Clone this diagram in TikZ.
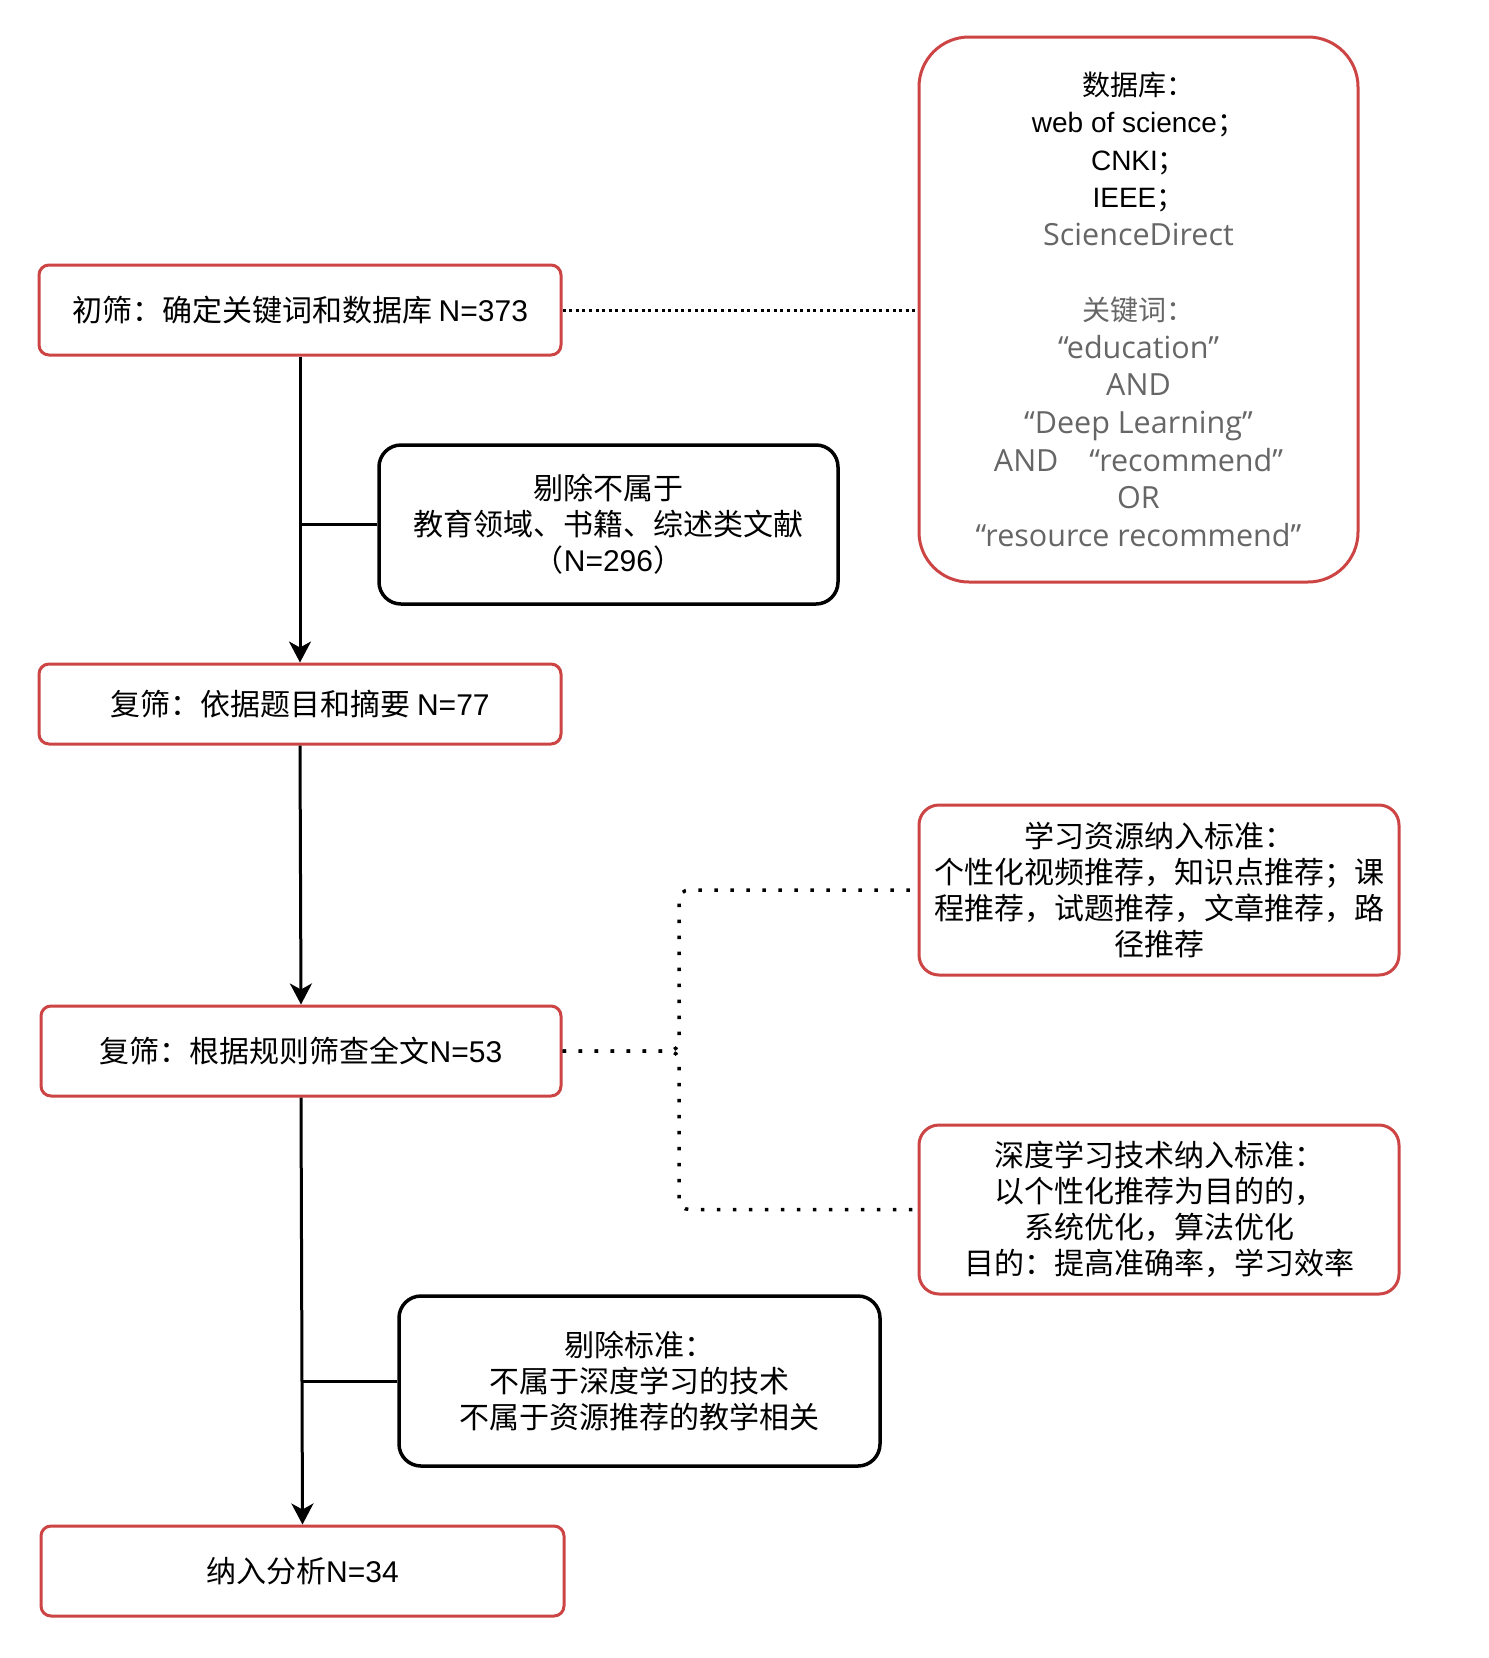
\documentclass[tikz,border=0pt]{standalone}
\usepackage{fontspec}
\setmainfont{Noto Sans CJK SC}
\newfontfamily\lat{Liberation Sans}
\newfontfamily\seg{Open Sans}
\usetikzlibrary{arrows.meta,calc}
\definecolor{boxred}{RGB}{204,68,68}
\definecolor{txtgray}{HTML}{666666}
\newcommand\grl[1]{{\color{txtgray}\seg\fontsize{30.5}{37.6}\selectfont #1}}
\begin{document}
\begin{tikzpicture}[x=1pt,y=-1pt,
 redbox/.style={draw=boxred,line width=3pt,rounded corners=10pt,fill=white,inner sep=0pt,align=center,font=\fontsize{30}{36}\selectfont},
 blkbox/.style={draw=black,line width=3.5pt,rounded corners=22pt,fill=white,inner sep=0pt,align=center,font=\fontsize{30}{36}\selectfont},
 flow/.style={line width=3pt,-{Stealth[length=21pt,width=22pt,inset=6pt]}},
 branch/.style={line width=3pt},
 dotA/.style={line width=3pt,dash pattern=on 3pt off 3.6pt},
 dotB/.style={line width=3.5pt,dash pattern=on 3.5pt off 12.5pt,rounded corners=10pt}]
\useasboundingbox (0,0) rectangle (1489,1658);
% left column
\node[redbox,minimum width=522pt,minimum height=90pt] (b1) at (300,310) {初筛：确定关键词和数据库 {\lat N=373}};
\node[redbox,minimum width=522pt,minimum height=80pt] (b2) at (300,704) {复筛：依据题目和摘要 {\lat N=77}};
\node[redbox,minimum width=520pt,minimum height=90pt] (b3) at (301,1051) {复筛：根据规则筛查全文{\lat N=53}};
\node[redbox,minimum width=523pt,minimum height=90pt] (b4) at (302.5,1571) {纳入分析{\lat N=34}};
% exclusion boxes
\node[blkbox,minimum width=459pt,minimum height=159pt] (r1) at (608.5,524.5) {剔除不属于\\教育领域、书籍、综述类文献\\（{\lat N=296}）};
\node[blkbox,minimum width=481pt,minimum height=170pt] (r2) at (639.5,1381) {剔除标准：\\不属于深度学习的技术\\不属于资源推荐的教学相关};
% right boxes
\node[redbox,rounded corners=50pt,minimum width=439pt,minimum height=545pt] (db) at (1138.5,309.5) {};
\node[align=center,inner sep=0pt,font=\fontsize{28}{37.6}\selectfont] (dbt) at (1138.5,309) {数据库：\\{\lat web of science}；\\{\lat CNKI}；\\{\lat IEEE}；\\\grl{ScienceDirect}\\[37.6pt]{\color{txtgray}关键词：}\\\grl{“education”}\\\grl{AND}\\\grl{“Deep Learning”}\\\grl{AND\hspace{31pt}“recommend”}\\\grl{OR}\\\grl{“resource recommend”}};
\node[redbox,rounded corners=20pt,minimum width=480pt,minimum height=170pt] (lr) at (1159,890) {学习资源纳入标准：\\个性化视频推荐，知识点推荐；课\\程推荐，试题推荐，文章推荐，路\\径推荐};
\node[redbox,rounded corners=20pt,minimum width=480pt,minimum height=169pt] (dl) at (1159,1209.5) {深度学习技术纳入标准：\\以个性化推荐为目的的，\\系统优化，算法优化\\目的：提高准确率，学习效率};
% connectors
\draw[flow] (b1.south) -- (b2.north);
\draw[flow] (b2.south) -- (b3.north);
\draw[flow] (b3.south) -- (b4.north);
\draw[branch] (r1.west) -- (r1.west -| b1.south);
\draw[branch] (r2.west) -- (r2.west -| b3.south);
\draw[dotA] (b1.east) -- (b1.east -| db.west);
\coordinate (jx) at (679,1051);
\draw[dotB] (b3.east) -- (jx) |- (lr.west);
\draw[dotB] (b3.east) -- (jx) |- (dl.west);
\end{tikzpicture}
\end{document}
